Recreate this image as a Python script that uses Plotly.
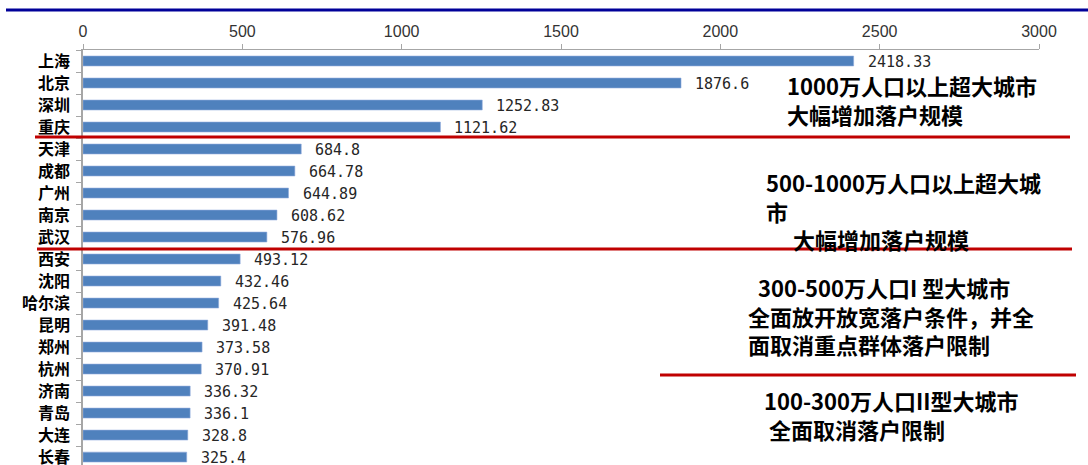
import plotly.graph_objects as go

cities = ["上海", "北京", "深圳", "重庆", "天津", "成都", "广州", "南京", "武汉",
          "西安", "沈阳", "哈尔滨", "昆明", "郑州", "杭州", "济南", "青岛", "大连", "长春"]
values = [2418.33, 1876.6, 1252.83, 1121.62, 684.8, 664.78, 644.89, 608.62, 576.96,
          493.12, 432.46, 425.64, 391.48, 373.58, 370.91, 336.32, 336.1, 328.8, 325.4]
value_labels = ["2418.33", "1876.6", "1252.83", "1121.62", "684.8", "664.78", "644.89",
                "608.62", "576.96", "493.12", "432.46", "425.64", "391.48", "373.58",
                "370.91", "336.32", "336.1", "328.8", "325.4"]
x_ticks = [0, 500, 1000, 1500, 2000, 2500, 3000]

W, H = 1088, 465
L, R, T, B = 83, 49, 50, 0
PW, PH = W - L - R, H - T - B


def px(xp):
    return (xp - L) / PW


def py(yp):
    return (H - B - yp) / PH


fig = go.Figure()
fig.add_trace(go.Bar(
    x=values, y=cities, orientation="h",
    marker=dict(color="#4F81BD", line=dict(color="#8EAADB", width=0.6)),
    hoverinfo="skip",
))

for c, v, t in zip(cities, values, value_labels):
    fig.add_annotation(x=v, y=c, xref="x", yref="y", text=t, showarrow=False,
                       xanchor="left", yanchor="middle", xshift=12, yshift=-1,
                       font=dict(family="DejaVu Sans Mono", size=15, color="#262626"))

# group labels (multi-line blocks)
NB = "\u00a0"
IS = "\u3000"
groups = [
    ("<b>1000万人口以上超大城市<br>大幅增加落户规模</b>", 785, 99),
    ("<b>500-1000万人口以上超大城<br>市<br>" + IS + NB + "大幅增加落户规模</b>", 764, 210),
    ("<b>" + NB + NB + "300-500万人口I 型大城市<br>全面放开放宽落户条件，并全<br>面取消重点群体落户限制</b>", 746, 315.5),
    ("<b>100-300万人口II型大城市<br>" + NB + "全面取消落户限制</b>", 762, 414),
]
for text, xp, yp in groups:
    fig.add_annotation(x=px(xp), y=py(yp), xref="paper", yref="paper", text=text,
                       showarrow=False, xanchor="left", yanchor="middle", align="left",
                       font=dict(family="Noto Sans CJK SC", size=22, color="#000000"))

# top dark blue rule
fig.add_shape(type="line", xref="paper", yref="paper", x0=px(6), x1=px(1088),
              y0=py(10), y1=py(10), line=dict(color="#000099", width=3))
# red separators
for x0, x1, yp in [(35, 1070, 137), (37, 1072, 249), (660, 1076, 375)]:
    fig.add_shape(type="line", xref="paper", yref="paper", x0=px(x0), x1=px(x1),
                  y0=py(yp), y1=py(yp), line=dict(color="#C00000", width=3))

fig.update_layout(
    width=W, height=H,
    margin=dict(l=L, r=R, t=T, b=B, autoexpand=False),
    paper_bgcolor="white", plot_bgcolor="white",
    bargap=0.55, showlegend=False,
    xaxis=dict(side="top", range=[0, 3000], tickvals=x_ticks, showgrid=False,
               zeroline=False, showline=True, linecolor="#A6A6A6", linewidth=1,
               ticks="outside", ticklen=5, tickcolor="#A6A6A6", automargin=False,
               ticklabelstandoff=1,
               tickfont=dict(family="Liberation Sans", size=16, color="#333333")),
    yaxis=dict(type="category", categoryorder="array", categoryarray=cities,
               range=[18.36, -0.5], showgrid=False, zeroline=False, showline=True,
               linecolor="#A6A6A6", linewidth=1.5, ticks="outside", ticklen=5,
               tickcolor="#A6A6A6", tickson="boundaries", ticklabelstandoff=8,
               automargin=False,
               tickfont=dict(family="Noto Sans CJK SC", size=16, color="#000000",
                             weight="bold")),
)

fig.write_html("out.html", config={"displayModeBar": False},
               post_script="document.body.style.margin='0';document.body.style.overflow='hidden';")
